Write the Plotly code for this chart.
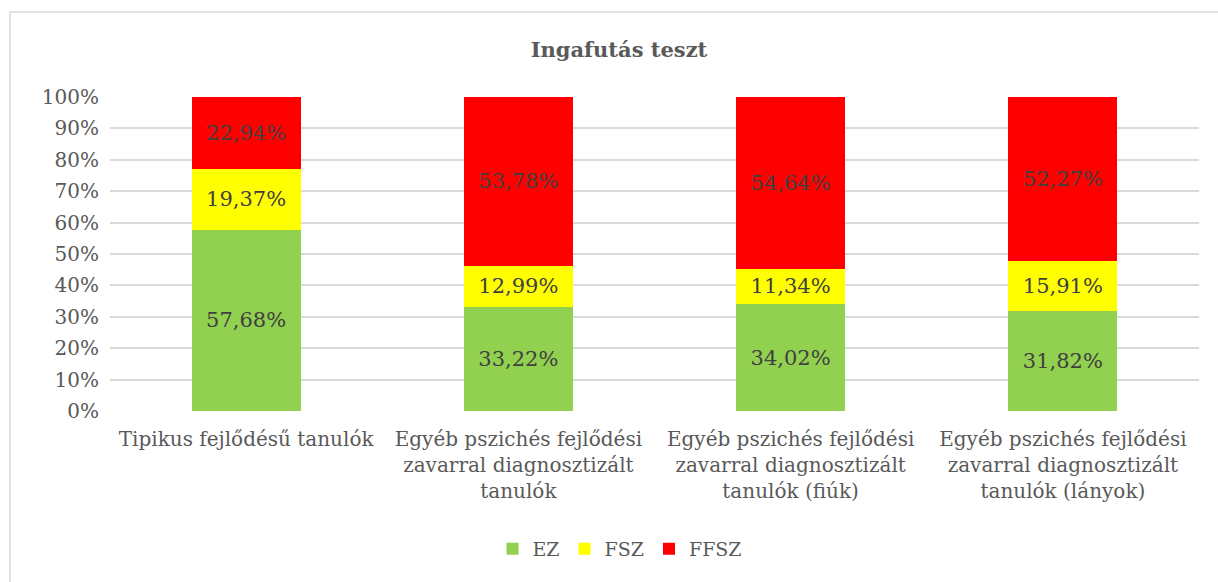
import plotly.graph_objects as go

categories = [
    "Tipikus fejlődésű tanulók",
    "Egyéb pszichés fejlődési<br>zavarral diagnosztizált<br>tanulók",
    "Egyéb pszichés fejlődési<br>zavarral diagnosztizált<br>tanulók (fiúk)",
    "Egyéb pszichés fejlődési<br>zavarral diagnosztizált<br>tanulók (lányok)",
]
ez = [57.68, 33.22, 34.02, 31.82]
fsz = [19.37, 12.99, 11.34, 15.91]
ffsz = [22.94, 53.78, 54.64, 52.27]
tick_vals = [0, 10, 20, 30, 40, 50, 60, 70, 80, 90, 100]
tick_text = ["0%", "10%", "20%", "30%", "40%", "50%", "60%", "70%", "80%", "90%", "100%"]

series = [("EZ", ez, "#92d050"), ("FSZ", fsz, "#ffff00"), ("FFSZ", ffsz, "#ff0000")]

FONT = "DejaVu Serif"
FS = 20
W, H = 1218, 582
L, R, T, B = 110, 19, 97, 171
pw, ph = W - L - R, H - T - B

def fmt(v):
    return f"{v:.2f}%".replace(".", ",")

fig = go.Figure()
for name, vals, col in series:
    fig.add_trace(go.Bar(
        x=categories, y=vals, name=name, marker_color=col, marker_line_width=0,
        text=[fmt(v) for v in vals], textposition="inside", insidetextanchor="middle",
        textfont=dict(family=FONT, size=21, color="#404040"),
        hoverinfo="skip",
    ))

def px2x(p):
    return (p - L) / pw

def px2y(p):
    return (H - B - p) / ph

fig.update_layout(
    width=W, height=H,
    barmode="stack", bargap=0.6,
    margin=dict(l=L, r=R, t=T, b=B),
    paper_bgcolor="white", plot_bgcolor="white",
    font=dict(family=FONT, color="#595959", size=FS),
    title=dict(text="<b>Ingafutás teszt</b>", x=619 / W, xanchor="center",
               y=1 - 50 / H, yanchor="middle",
               font=dict(family=FONT, size=21, color="#595959")),
    showlegend=True,
    legend=dict(orientation="h", x=px2x(620), xanchor="center", y=px2y(549), yanchor="middle",
                font=dict(family=FONT, size=19, color="#595959"), traceorder="normal",
                itemwidth=30, itemsizing="constant"),
    shapes=[dict(type="rect", xref="paper", yref="paper",
                 x0=px2x(10), x1=px2x(1240), y0=px2y(600), y1=px2y(12),
                 line=dict(color="#d9d9d9", width=1.5), layer="below")],
)
fig.update_xaxes(showgrid=False, showline=False, ticks="", tickfont=dict(size=FS, color="#595959"),
                 ticklabelstandoff=14)
fig.update_yaxes(range=[0, 100], tickmode="array", tickvals=tick_vals, ticktext=tick_text,
                 showgrid=True, gridcolor="#d9d9d9", gridwidth=1.5, zeroline=False, showline=False,
                 tickfont=dict(size=FS, color="#595959"), ticklabelstandoff=10)
fig.write_html("out.html", config={"displayModeBar": False},
               post_script="document.body.style.margin='0';document.body.style.overflow='hidden';")
